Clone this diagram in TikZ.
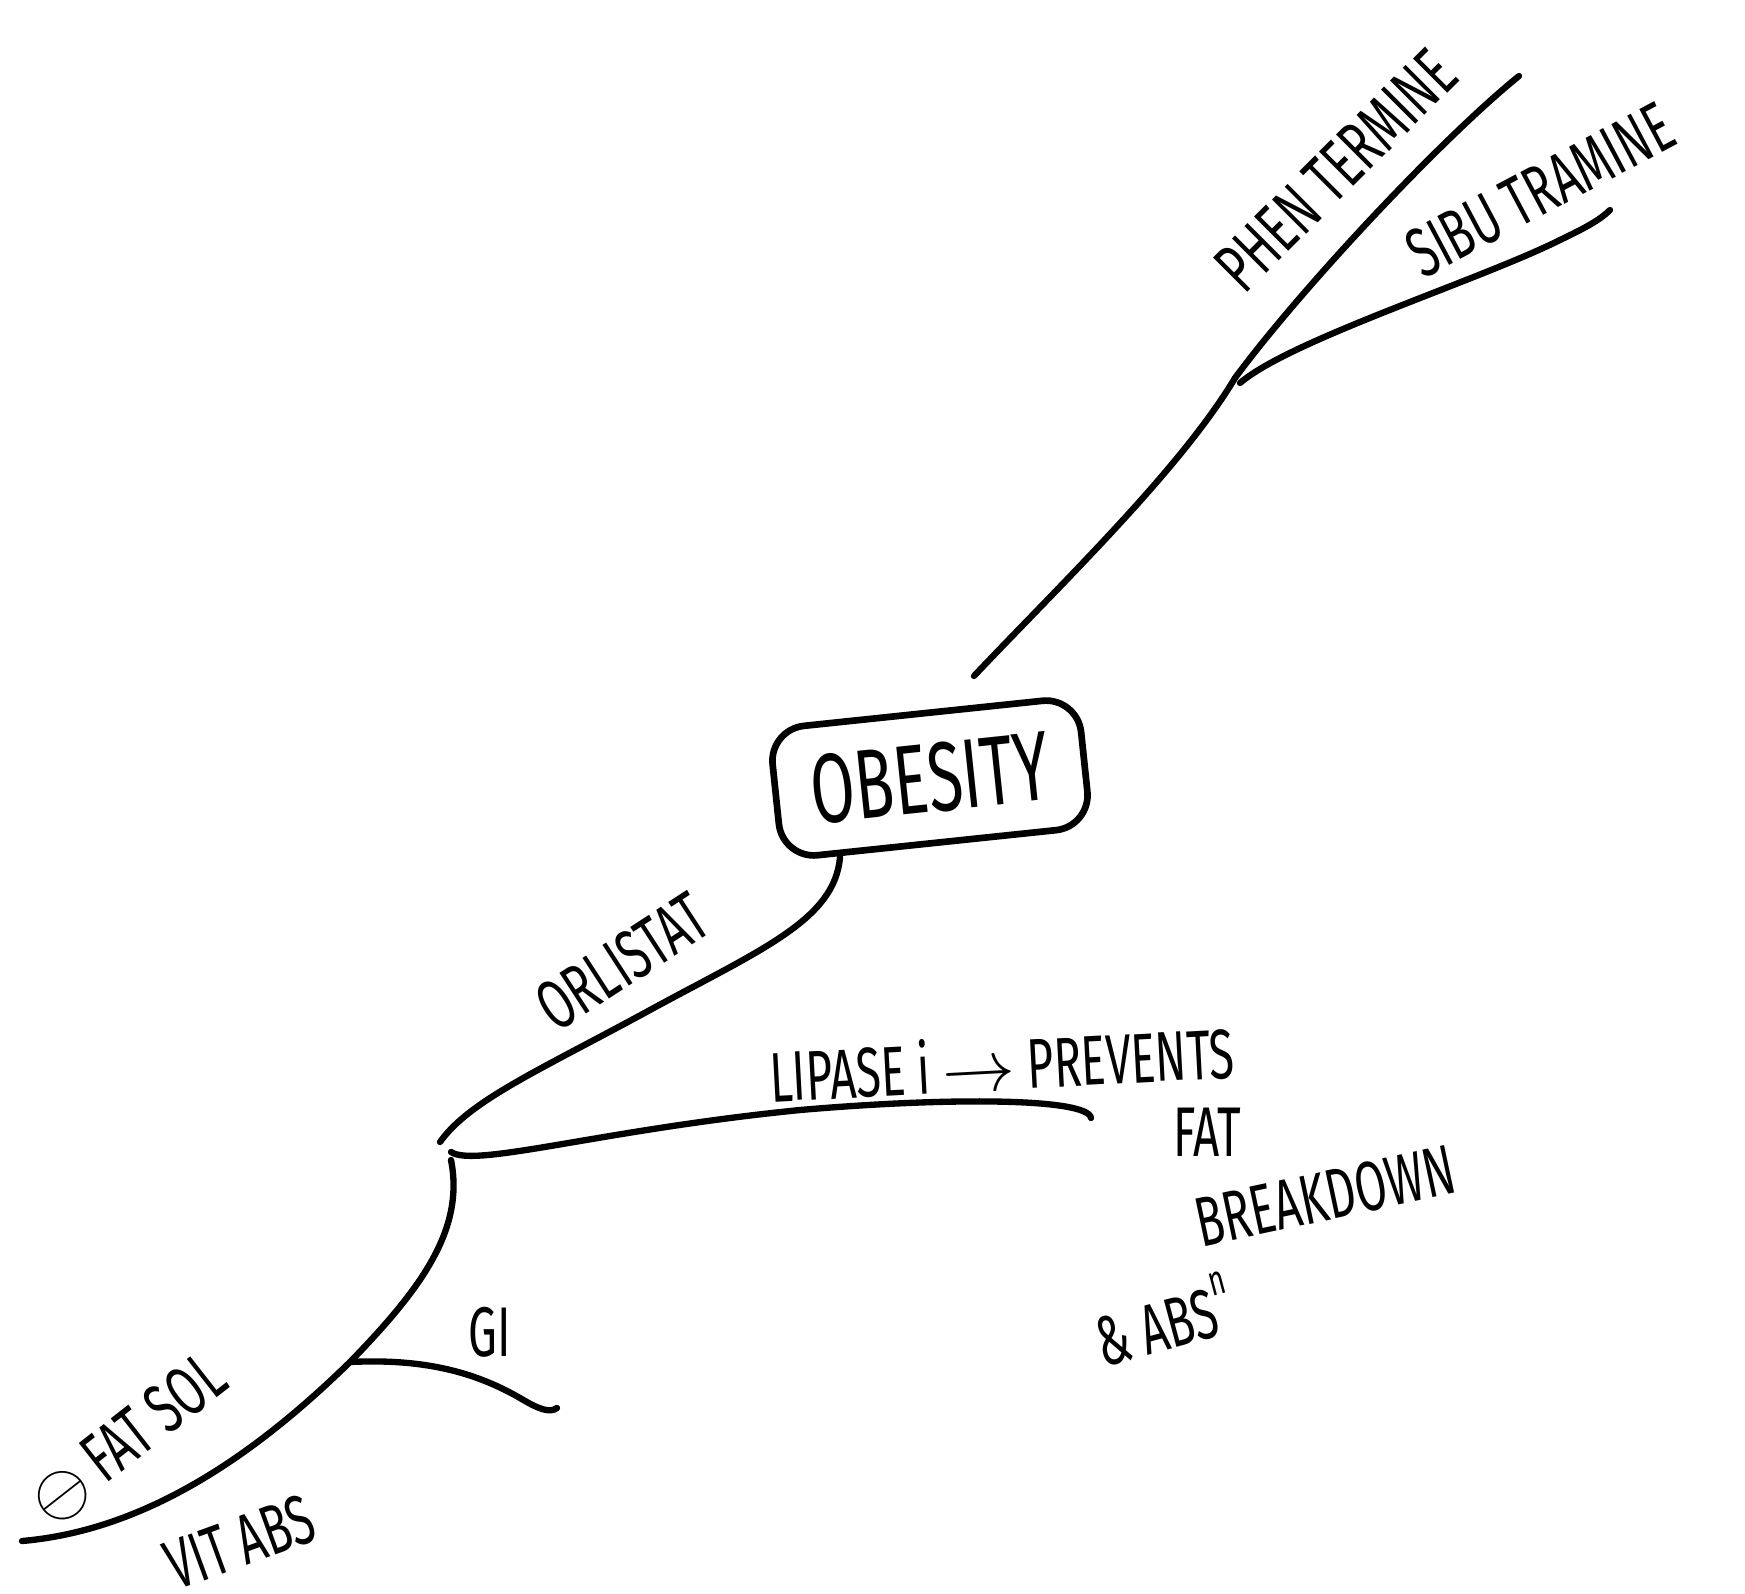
\documentclass[tikz,border=0pt]{standalone}
\usepackage{fontspec}
\newfontfamily\hand[FakeStretch=0.65]{Fira Sans}

\begin{document}
\begin{tikzpicture}[
  x=0.01cm, y=-0.01cm,
  branch/.style={line width=1.8pt, line cap=round},
  tag/.style={font=\hand\fontsize{20}{20}\selectfont, inner sep=0pt},
  core/.style={
    draw, line width=1.9pt, rounded corners=10pt, inner sep=4pt,
    minimum width=3.1cm, minimum height=1.3cm,
    font=\hand\fontsize{28}{28}\selectfont
  }
]
\useasboundingbox[fill=white] (0,0) rectangle (1745,1593);

% centre
\node[core, rotate=6] (obesity) at (930,778) {OBESITY};

% upper branches
\coordinate (topfoot) at (974,676);
\coordinate (topfork) at (1235,378);
\coordinate (sibfork) at (1240,383);
\coordinate (phenend) at (1519,76);
\coordinate (sibend) at (1610,210);
\draw[branch] (topfoot) .. controls (1060,585) and (1180,470) .. (topfork);
\draw[branch] (topfork) .. controls (1300,290) and (1440,140) .. (phenend);
\draw[branch] (sibfork) .. controls (1290,340) and (1480,280) .. (1560,240)
  .. controls (1585,228) and (1600,220) .. (sibend);
\node[tag, rotate=45] (phen) at (1336,170) {PHEN TERMINE};
\node[tag, rotate=28] (sibu) at (1540,190) {SIBU TRAMINE};

% orlistat
\coordinate (orlfoot) at (840,857);
\coordinate (lowfork) at (440,1142);
\draw[branch] (orlfoot) .. controls (835,920) and (760,950) .. (650,1010)
  .. controls (540,1070) and (470,1100) .. (lowfork);
\node[tag, rotate=33] (orli) at (622,962) {ORLISTAT};

% lipase
\coordinate (lipstart) at (451,1152);
\coordinate (lipend) at (1091,1118);
\draw[branch] (lipstart) .. controls (475,1168) and (600,1130) .. (800,1110)
  .. controls (950,1097) and (1088,1098) .. (lipend);
\node[tag, rotate=3] (lipase) at (1002,1063) {LIPASE i $\rightarrow$ PREVENTS};
\node[tag] (fat) at (1207,1132) {FAT};
\node[tag, rotate=12] (breakdown) at (1325,1196) {BREAKDOWN};
\node[tag, rotate=15] (abs) at (1163,1319)
  {\& ABS\raisebox{1.1ex}{\fontsize{12}{12}\selectfont n}};

% lower branches
\coordinate (lowstart) at (451,1160);
\coordinate (gifork) at (350,1362);
\coordinate (lowend) at (22,1541);
\coordinate (giend) at (557,1408);
\draw[branch] (lowstart) .. controls (465,1230) and (420,1290) .. (gifork)
  .. controls (260,1450) and (150,1530) .. (lowend);
\draw[branch] (gifork) .. controls (430,1358) and (480,1375) .. (520,1398)
  .. controls (540,1410) and (550,1413) .. (giend);
\node[tag, rotate=38] (fatsol) at (128,1440) {$\ominus$ FAT SOL};
\node[tag, rotate=20] (vitabs) at (240,1542) {VIT ABS};
\node[tag] (gi) at (490,1332) {GI};
\end{tikzpicture}
\end{document}
